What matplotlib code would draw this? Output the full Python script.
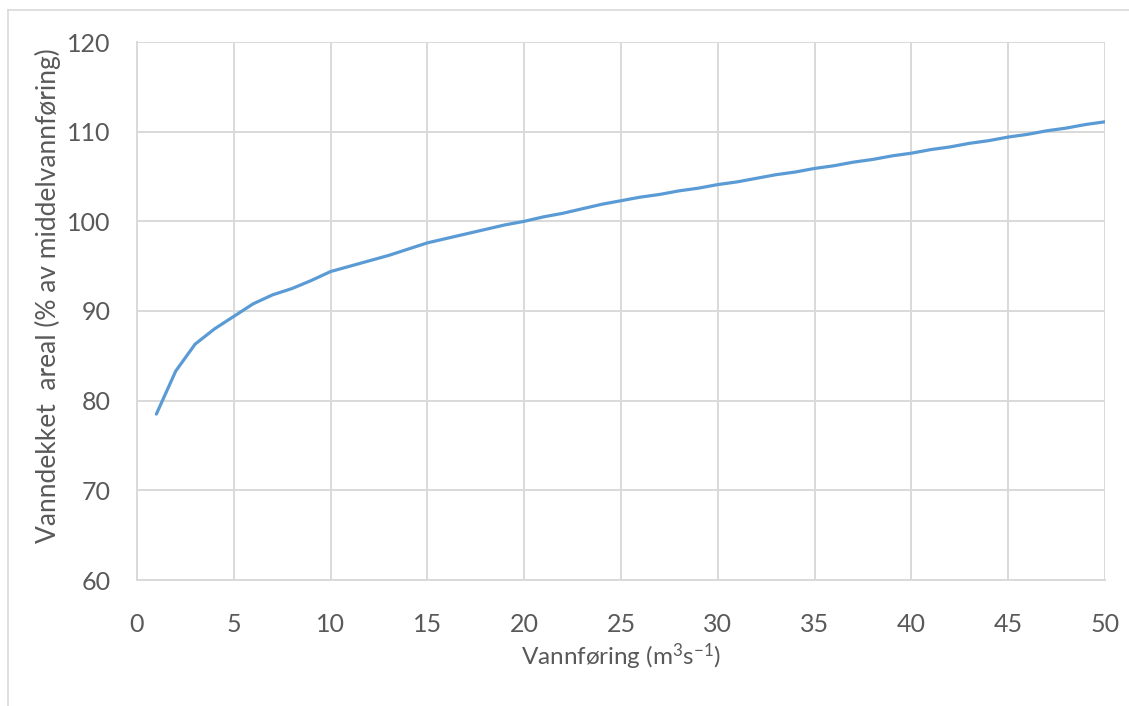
import matplotlib
matplotlib.use("Agg")
import matplotlib.pyplot as plt
from matplotlib.lines import Line2D

# discharge (m3/s) and wetted area (% of mean-flow area)
discharge = list(range(1, 51))
area_pct = [
    78.5, 83.3, 86.3, 88.0, 89.4, 90.8, 91.8, 92.5, 93.4, 94.4,
    95.0, 95.6, 96.2, 96.9, 97.6, 98.1, 98.6, 99.1, 99.6, 100.0,
    100.5, 100.9, 101.4, 101.9, 102.3, 102.7, 103.0, 103.4, 103.7, 104.1,
    104.4, 104.8, 105.2, 105.5, 105.9, 106.2, 106.6, 106.9, 107.3, 107.6,
    108.0, 108.3, 108.7, 109.0, 109.4, 109.7, 110.1, 110.4, 110.8, 111.1,
]
x_ticks = list(range(0, 51, 5))
y_ticks = list(range(60, 121, 10))

TEXT = "#595959"
GRID = "#d9d9d9"

plt.rcParams["font.family"] = ["Lato", "DejaVu Sans"]
plt.rcParams["mathtext.fontset"] = "custom"
plt.rcParams["mathtext.rm"] = "Lato"
plt.rcParams["mathtext.it"] = "Lato"

fig = plt.figure(figsize=(11.29, 7.06), dpi=100)
ax = fig.add_axes([137 / 1129, 1 - 580 / 706, (1105 - 137) / 1129, (580 - 42) / 706])

ax.plot(discharge, area_pct, color="#5b9bd5", linewidth=2.3, solid_capstyle="round")

ax.set_xlim(0, 50)
ax.set_ylim(60, 120)
ax.set_xticks(x_ticks)
ax.set_yticks(y_ticks)
ax.grid(True, color=GRID, linewidth=1.4)
ax.set_axisbelow(True)
for side in ("top", "right"):
    ax.spines[side].set_visible(False)
for side in ("left", "bottom"):
    ax.spines[side].set_color(GRID)
    ax.spines[side].set_linewidth(1.4)
ax.tick_params(length=0, labelsize=18, labelcolor=TEXT)
ax.tick_params(axis="y", pad=19)
ax.tick_params(axis="x", pad=24)

ax.set_xlabel(r"Vannføring (m$^3$s$^{-1}$)", fontsize=17.5, color=TEXT, labelpad=4)
ax.set_ylabel("Vanndekket  areal (% av middelvannføring)", fontsize=19, color=TEXT)
ax.yaxis.set_label_coords(-76 / 968, (580 - 296) / 538)

# light chart-area border (only top and left are visible in the original)
fig.add_artist(Line2D([8 / 1129, 8 / 1129], [0, 1 - 10 / 706], color=GRID, lw=1.2,
                      transform=fig.transFigure))
fig.add_artist(Line2D([8 / 1129, 1], [1 - 10 / 706, 1 - 10 / 706], color=GRID, lw=1.2,
                      transform=fig.transFigure))

fig.savefig("out.png", dpi=100)
